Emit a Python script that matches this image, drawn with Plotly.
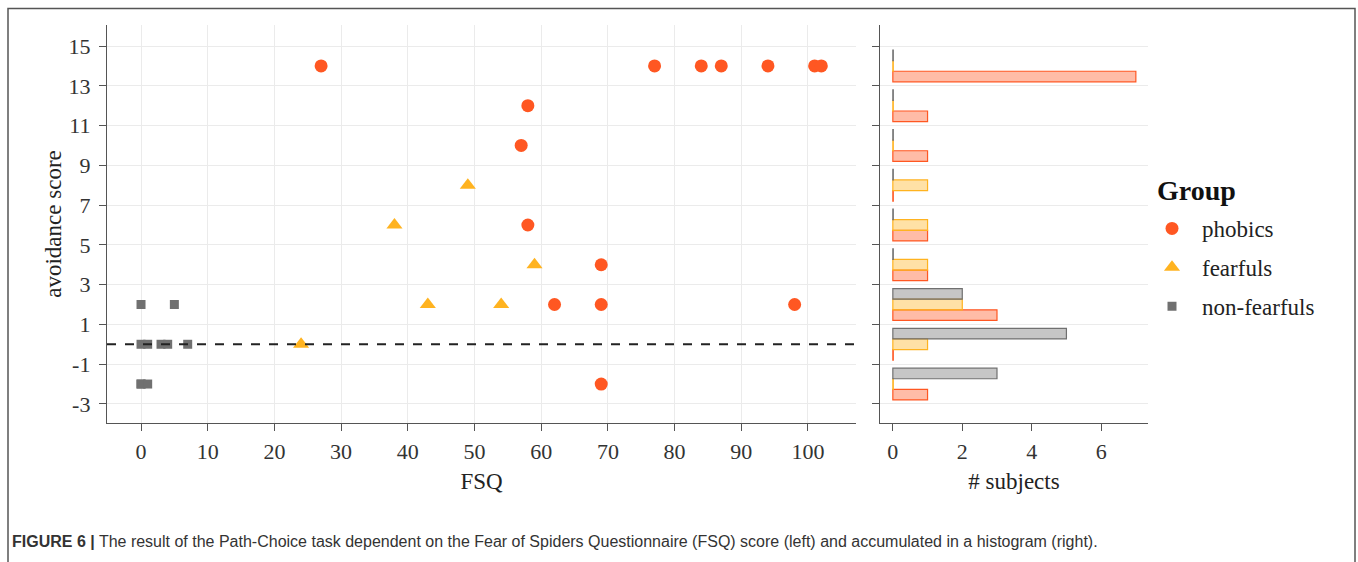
import numpy as np
import plotly.graph_objects as go

W, H = 1358, 562

# ---- data ----
groups = ["phobics", "fearfuls", "non-fearfuls"]
phobics_fsq = [27, 77, 84, 87, 94, 101, 102, 58, 57, 58, 69, 62, 69, 98, 69]
phobics_avoid = [14, 14, 14, 14, 14, 14, 14, 12, 10, 6, 4, 2, 2, 2, -2]
fearfuls_fsq = [49, 38, 59, 43, 54, 24]
fearfuls_avoid = [8, 6, 4, 2, 2, 0]
nonfearfuls_fsq = [0, 5, 0, 1, 3, 4, 7, 0, 0, 1]
nonfearfuls_avoid = [2, 2, 0, 0, 0, 0, 0, -2, -2, -2]

y_ticks = [-3, -1, 1, 3, 5, 7, 9, 11, 13, 15]
y_ticklabels = ["-3", "-1", "1", "3", "5", "7", "9", "11", "13", "15"]
x_ticks = [0, 10, 20, 30, 40, 50, 60, 70, 80, 90, 100]
hist_ticks = [0, 2, 4, 6]
bin_edges = [-3, -1, 1, 3, 5, 7, 9, 11, 13, 15]

colors = {"phobics": "#FF5722", "fearfuls": "#FFB320", "non-fearfuls": "#707070"}
fills = {"phobics": "rgba(255,87,34,0.40)", "fearfuls": "rgba(255,179,32,0.40)",
         "non-fearfuls": "rgba(112,112,112,0.40)"}
symbols = {"phobics": "circle", "fearfuls": "triangle-up", "non-fearfuls": "square"}
sizes = {"phobics": 13, "fearfuls": 14, "non-fearfuls": 9}

data = {
    "phobics": (phobics_fsq, phobics_avoid),
    "fearfuls": (fearfuls_fsq, fearfuls_avoid),
    "non-fearfuls": (nonfearfuls_fsq, nonfearfuls_avoid),
}

SERIF = "Liberation Serif"

fig = go.Figure()

# scatter
for g in groups:
    xs, ys = data[g]
    fig.add_trace(go.Scatter(
        x=xs, y=ys, mode="markers", name=g, legendgroup=g,
        marker=dict(symbol=symbols[g], size=sizes[g], color=colors[g], line=dict(width=0)),
        xaxis="x", yaxis="y", showlegend=True,
    ))

# histogram (horizontal grouped bars)
centers = [(bin_edges[k] + bin_edges[k + 1]) / 2 for k in range(len(bin_edges) - 1)]
for g in groups:
    counts, _ = np.histogram(data[g][1], bins=bin_edges)
    disp = [c if c > 0 else 0.012 for c in counts]
    fig.add_trace(go.Bar(
        x=disp, y=centers, orientation="h", name=g, legendgroup=g, showlegend=False,
        marker=dict(color=fills[g], line=dict(color=colors[g], width=1.2)),
        xaxis="x2", yaxis="y2", hoverinfo="skip",
    ))

ydom = [1 - 423 / H, 1 - 25 / H]
axis_common = dict(
    showline=True, linecolor="#555555", linewidth=1.3, ticks="outside", ticklen=7,
    tickcolor="#555555", tickwidth=1.2, gridcolor="#EBEBEB", gridwidth=1, zeroline=False,
    tickfont=dict(family=SERIF, size=22, color="#333333"),
    mirror=False,
)
title_font = dict(family=SERIF, size=23, color="#222222")

fig.update_layout(
    width=W, height=H, margin=dict(l=0, r=0, t=0, b=0),
    paper_bgcolor="white", plot_bgcolor="white",
    barmode="group", bargap=0.2, bargroupgap=0,
    font=dict(family=SERIF, color="#222222"),
    xaxis=dict(domain=[107 / W, 856 / W], range=[-5.1, 107.2], tickvals=x_ticks,
               title=dict(text="FSQ", font=title_font, standoff=10),
               anchor="y", showgrid=True, ticklabelstandoff=1, **axis_common),
    yaxis=dict(domain=ydom, range=[-3.96, 16.06], tickvals=y_ticks, ticktext=y_ticklabels,
               title=dict(text="avoidance score", font=title_font, standoff=0),
               anchor="x", showgrid=True, ticklabelstandoff=4, **axis_common),
    xaxis2=dict(domain=[880 / W, 1148 / W], range=[-0.37, 7.35], tickvals=hist_ticks,
                title=dict(text="# subjects", font=title_font, standoff=10),
                anchor="y2", showgrid=False, ticklabelstandoff=1, **axis_common),
    yaxis2=dict(domain=ydom, range=[-3.96, 16.06], tickvals=y_ticks, showticklabels=False,
                anchor="x2", showgrid=True, **axis_common),
    legend=dict(
        x=1142 / W, y=1 - 207 / H, xanchor="left", yanchor="top",
        font=dict(family=SERIF, size=23, color="#222222"),
        tracegroupgap=6, itemwidth=50, bgcolor="rgba(0,0,0,0)",
    ),
    shapes=[
        dict(type="line", xref="x domain", yref="y", x0=0, x1=1, y0=0, y1=0,
             line=dict(color="#222222", width=2, dash="dash")),
        dict(type="rect", xref="paper", yref="paper", x0=8 / W, x1=1355 / W,
             y0=-0.1, y1=1 - 8.5 / H, line=dict(color="#555555", width=1.5),
             fillcolor="rgba(0,0,0,0)", layer="below"),
    ],
    annotations=[
        dict(xref="paper", yref="paper", x=1155 / W, y=1 - 190 / H, xanchor="left", yanchor="middle",
             showarrow=False, text="<b>Group</b>",
             font=dict(family=SERIF, size=28, color="#111111")),
        dict(xref="paper", yref="paper", x=10 / W, y=1 - 541 / H, xanchor="left", yanchor="middle",
             showarrow=False,
             text="<b>FIGURE 6 |</b> The result of the Path-Choice task dependent on the Fear of Spiders "
                  "Questionnaire (FSQ) score (left) and accumulated in a histogram (right).",
             font=dict(family="Liberation Sans, Arial", size=16, color="#333333")),
    ],
)

fig.write_html("out.html")
